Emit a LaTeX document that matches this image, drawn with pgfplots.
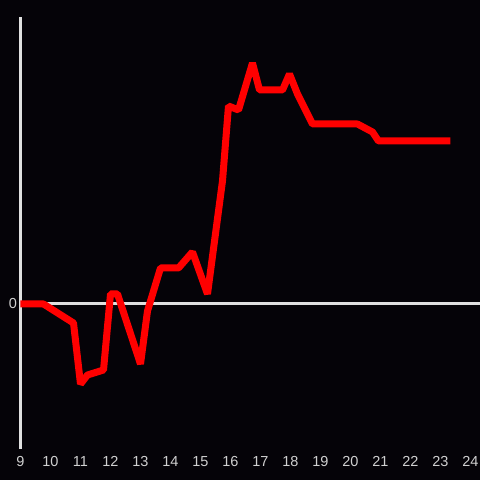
\documentclass[border=0pt]{standalone}
\usepackage{pgfplots}
\pgfplotsset{compat=1.18}
\usepackage{fontspec}
\setmainfont{Liberation Sans}
\definecolor{bg}{HTML}{050308}
\definecolor{ax}{HTML}{E0E0E0}
\definecolor{lbl}{HTML}{D0D0D0}
\begin{document}
\begin{tikzpicture}[x=1pt,y=1pt]
\fill[bg] (0,0) rectangle (480,480);
\useasboundingbox (0,0) rectangle (480,480);
\begin{axis}[
  at={(20.5pt,31pt)}, anchor=south west,
  scale only axis, width=460pt, height=432pt,
  xmin=9, xmax=24.3333, ymin=-145, ymax=287,
  axis line style={draw=none},
  xtick={9,10,...,24}, ytick={0},
  tick style={draw=none},
  clip=false,
  /pgf/number format/assume math mode=true,
  ticklabel style={font=\fontsize{14.5}{17}\selectfont, text=lbl},
  xticklabel style={yshift=-4pt},
  yticklabel style={xshift=0pt},
]
\addplot[ax, line width=3pt] coordinates {(9,-145) (9,287)};
\addplot[ax, line width=3pt] coordinates {(9,0) (24.3333,0)};
\addplot[red, line width=7pt, line join=bevel] coordinates {
(9,0) (9.767,0) (10.767,-19) (11.0,-80) (11.233,-71) (11.767,-66)
(12.0,10) (12.233,10) (13.0,-60) (13.233,-7) (13.667,36) (14.267,36)
(14.733,52) (15.233,10) (15.733,123) (15.933,198) (16.267,194)
(16.733,241) (16.967,214) (17.733,214) (17.967,230) (18.233,210)
(18.733,180) (20.233,180) (20.733,172) (20.933,163) (23.333,163)
};
\end{axis}
\end{tikzpicture}
\end{document}
